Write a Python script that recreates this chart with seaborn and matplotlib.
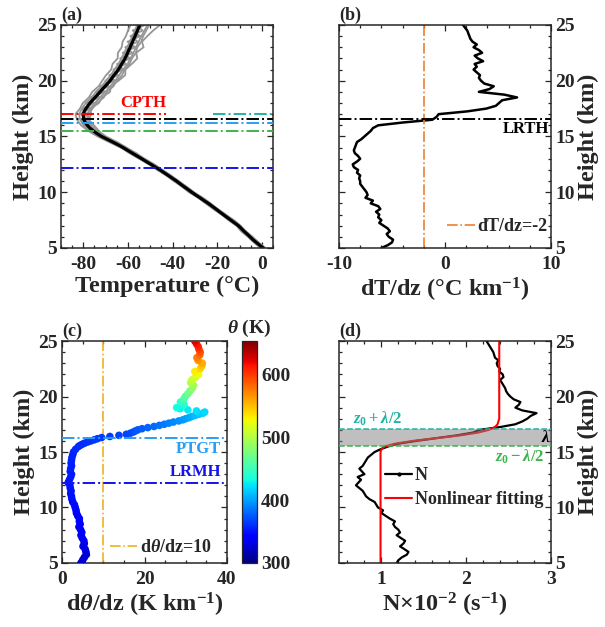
import numpy as np
import pandas as pd
import matplotlib
matplotlib.use("Agg")
import matplotlib.pyplot as plt
import seaborn as sns
from matplotlib.ticker import MultipleLocator
from matplotlib.colors import Normalize
from matplotlib.cm import ScalarMappable
from matplotlib.lines import Line2D

sns.set_theme(style="ticks")
plt.rcParams['font.family'] = ['Liberation Serif', 'DejaVu Serif']
plt.rcParams['font.weight'] = 'bold'
plt.rcParams['axes.labelweight'] = 'bold'
plt.rcParams['axes.unicode_minus'] = False
plt.rcParams['mathtext.fontset'] = 'custom'
plt.rcParams['mathtext.rm'] = 'Liberation Serif:bold'
plt.rcParams['mathtext.it'] = 'Liberation Serif:italic:bold'
plt.rcParams['mathtext.bf'] = 'Liberation Serif:bold'

# ==========================================
# Data
# ==========================================
z = np.arange(5, 25.01, 0.25)        # 81 levels, km
z_gray = np.arange(5, 25.01, 0.5)    # 41 levels, km

# (a) mean temperature profile (deg C)
T_mean = [0.6, -1.0, -2.5, -4.0, -5.3, -6.6, -8.0, -9.2, -10.5, -12.2, -13.9, -15.6, -17.3,
          -19.0, -20.6, -22.3, -24.0, -25.9, -27.7, -29.6, -31.4, -33.1, -34.9, -36.6, -38.2,
          -40.1, -41.9, -43.8, -45.6, -47.7, -49.7, -51.8, -53.8, -55.9, -58.0, -60.1, -62.1,
          -64.4, -66.8, -69.3, -71.8, -73.8, -75.5, -77.0, -78.2, -79.1, -79.7, -79.9, -80.0,
          -79.6, -78.8, -77.9, -77.0, -75.9, -74.7, -73.6, -72.5, -71.4, -70.2, -69.1, -68.0,
          -67.1, -66.2, -65.2, -64.3, -63.5, -62.8, -62.0, -61.3, -60.7, -60.1, -59.6, -59.0,
          -58.5, -57.9, -57.4, -56.8, -56.3, -55.7, -55.2, -54.6]

# (a) individual soundings (gray)
T_snd1 = [1.6, -1.7, -4.1, -7.4, -9.5, -12.5, -16.4, -20.1, -22.9, -26.4, -30.6, -33.9, -37.6, -40.7,
          -44.7, -48.2, -52.8, -56.2, -60.9, -64.8, -70.3, -73.0, -75.2, -77.5, -76.5, -76.8, -73.0,
          -71.7, -68.0, -67.7, -64.2, -61.2, -61.1, -58.3, -55.8, -56.3, -53.0, -53.7, -51.3, -48.7, -45.6]
T_snd2 = [-0.5, -3.6, -6.2, -9.3, -11.4, -15.0, -18.1, -21.8, -25.2, -28.5, -32.7, -35.8, -39.5, -42.8,
          -46.9, -50.6, -55.0, -59.3, -63.2, -68.5, -73.6, -77.8, -81.0, -82.8, -83.5, -81.5, -80.2,
          -77.5, -76.0, -73.1, -71.5, -69.8, -67.5, -66.9, -64.6, -64.5, -62.8, -62.4, -60.9, -60.0, -58.8]
T_snd3 = [0.2, -2.0, -5.9, -7.5, -11.0, -13.2, -17.9, -20.0, -24.6, -27.0, -32.0, -34.2, -38.9, -41.2,
          -46.2, -49.0, -54.5, -57.2, -62.9, -66.0, -72.6, -74.6, -79.4, -78.5, -81.2, -77.2, -78.6,
          -72.9, -74.2, -68.6, -70.1, -64.4, -66.5, -60.9, -63.5, -58.0, -61.2, -55.6, -58.9, -53.4, -56.4]
T_snd4 = [1.2, -2.9, -4.6, -8.6, -10.0, -14.5, -16.8, -21.2, -23.4, -28.3, -30.8, -35.5, -37.5, -42.5,
          -45.0, -50.3, -53.1, -58.7, -61.4, -67.5, -70.9, -76.4, -77.0, -81.0, -78.4, -80.6, -75.2,
          -76.9, -70.4, -72.5, -65.8, -68.4, -62.0, -64.9, -59.0, -62.3, -56.7, -60.2, -54.5, -57.9, -52.3]
T_snd5 = [0.9, -2.1, -4.8, -7.6, -10.1, -13.3, -16.7, -20.0, -23.5, -27.1, -30.9, -34.3, -37.8, -41.3,
          -45.1, -49.0, -53.2, -57.3, -61.4, -65.8, -70.6, -74.3, -76.9, -78.3, -78.2, -77.0, -74.8,
          -72.6, -70.1, -68.0, -65.7, -63.9, -62.2, -60.1, -58.9, -57.5, -56.4, -55.2, -54.0, -52.6, -51.2]
T_snd6 = [0.1, -3.0, -5.8, -8.5, -11.0, -14.4, -17.9, -21.3, -24.6, -28.4, -32.1, -35.6, -38.8, -42.6,
          -46.3, -50.4, -54.6, -58.8, -63.0, -67.9, -72.9, -76.9, -79.8, -81.4, -81.9, -80.6, -78.9,
          -76.2, -74.4, -71.7, -69.9, -67.6, -66.1, -64.2, -62.9, -61.7, -60.4, -59.1, -58.0, -56.8, -55.9]
T_snd7 = [0.4, -2.6, -5.1, -7.8, -10.7, -13.7, -17.5, -20.4, -24.2, -27.5, -31.6, -34.7, -38.4, -41.7,
          -45.8, -49.5, -54.0, -57.6, -62.5, -66.3, -71.2, -75.9, -77.6, -80.3, -79.1, -79.5, -76.1,
          -75.3, -71.3, -71.6, -66.9, -67.0, -63.1, -63.6, -60.2, -60.9, -57.8, -58.6, -55.6, -56.5, -53.4]
T_snd8 = [1.4, -1.4, -4.4, -7.1, -9.8, -13.0, -16.2, -19.7, -23.2, -26.8, -30.4, -33.7, -37.2, -40.8,
          -44.5, -48.4, -52.5, -56.8, -60.6, -65.2, -69.8, -73.5, -76.4, -78.0, -77.6, -75.9, -74.0,
          -70.8, -69.4, -66.5, -65.0, -62.6, -61.5, -59.3, -58.2, -56.4, -55.8, -54.0, -53.2, -51.8, -50.5]

# (b) lapse rate dT/dz (deg C / km)
dTdz = [-6.0, -5.4, -5.0, -4.9, -5.3, -5.5, -5.2, -5.4, -5.8, -6.2, -6.0, -6.3, -6.2, -6.5, -6.1,
        -6.3, -7.0, -6.8, -7.5, -7.3, -7.4, -7.6, -7.8, -8.0, -8.0, -8.1, -8.0, -8.3, -8.2, -8.6,
        -8.7, -8.3, -8.0, -8.2, -8.5, -8.6, -8.5, -8.4, -8.3, -7.9, -7.6, -7.3, -7.0, -6.8, -6.3,
        -4.0, -1.2, -0.8, -0.6, 2.1, 3.9, 4.8, 5.1, 5.4, 6.8, 5.6, 3.2, 4.2, 4.6, 3.7, 3.4, 3.2,
        3.3, 3.0, 2.7, 3.0, 2.8, 3.6, 3.1, 2.8, 3.5, 3.2, 2.7, 3.0, 2.6, 2.4, 2.3, 2.2, 2.1, 1.9, 1.7]

# (c) potential temperature gradient and potential temperature
z_c = np.round(np.concatenate([np.arange(5, 15.3, 0.25), np.arange(15.5, 18.95, 0.1),
                               np.arange(19, 25.01, 0.25)]), 2)
dthdz = [4.6, 5.0, 5.4, 5.9, 5.8, 5.6, 5.1, 5.4, 5.3, 4.9, 4.6, 4.8, 4.5, 4.1, 4.4, 4.2, 4.2,
         3.8, 3.5, 3.4, 3.2, 3.0, 2.6, 2.4, 2.3, 2.1, 2.2, 2.0, 1.9, 1.5, 1.8, 2.1, 2.3, 2.0,
         2.1, 2.3, 2.2, 2.3, 2.4, 2.6, 2.8, 3.3,
         4.0, 4.4, 4.9, 5.5, 6.2, 7.0, 7.8, 8.6, 9.6, 11.6, 13.8, 15.6, 16.6, 17.3, 17.8, 18.4,
         19.4, 20.8, 22.3, 23.6, 24.8, 25.9, 27.0, 28.3, 29.3, 30.0, 30.8, 31.5, 32.3, 33.2,
         34.2, 34.6, 32.6, 30.5, 28.6,
         27.8, 29.6, 28.7, 29.5, 29.9, 30.5, 31.0, 31.6, 31.9, 31.2, 31.5, 32.4, 33.1, 32.2,
         33.5, 33.9, 34.0, 33.0, 32.7, 33.4, 33.5, 33.2, 33.0, 32.6, 32.2]
theta = [323.0, 324.2, 325.5, 327.0, 328.4, 329.8, 331.1, 332.4, 333.8, 335.0, 336.2, 337.4,
         338.5, 339.5, 340.6, 341.7, 342.7, 343.7, 344.6, 345.4, 346.2, 347.0, 347.6, 348.2,
         348.8, 349.3, 349.9, 350.4, 350.8, 351.2, 351.7, 352.2, 352.8, 353.3, 353.8, 354.4,
         354.9, 355.5, 356.1, 356.8, 357.5, 358.3,
         359.2, 359.6, 360.1, 360.6, 361.2, 361.9, 362.7, 363.5, 364.4, 365.5, 366.8, 368.3,
         369.9, 371.6, 373.4, 375.2, 377.1, 379.1, 381.3, 383.6, 386.0, 388.5, 391.2, 394.0,
         396.9, 399.9, 402.9, 406.0, 409.2, 412.5, 415.9, 419.4, 422.7, 425.8, 428.8,
         431.6, 438.8, 446.0, 453.3, 460.8, 468.4, 476.1, 484.0, 492.0, 499.8, 507.7, 515.8,
         524.1, 532.1, 540.5, 549.0, 557.5, 565.7, 573.9, 582.2, 590.6, 598.9, 607.1, 615.3, 623.4]

# (d) buoyancy frequency N (x 1e-2 s^-1) and sigmoid fit
N_obs = [1.18, 1.20, 1.24, 1.30, 1.32, 1.27, 1.22, 1.26, 1.28, 1.23, 1.18, 1.22, 1.20, 1.16,
         1.14, 1.16, 1.10, 1.05, 1.00, 1.02, 0.96, 0.94, 0.92, 0.86, 0.82, 0.80, 0.78, 0.74,
         0.70, 0.73, 0.76, 0.72, 0.80, 0.77, 0.74, 0.78, 0.80, 0.82, 0.84, 0.88, 0.92, 0.99,
         1.08, 1.20, 1.41, 1.65, 1.89, 2.08, 2.16, 2.40, 2.58, 2.66, 2.72, 2.76, 2.83, 2.66,
         2.58, 2.62, 2.64, 2.56, 2.52, 2.49, 2.47, 2.46, 2.44, 2.42, 2.40, 2.44, 2.43, 2.39,
         2.40, 2.37, 2.36, 2.38, 2.34, 2.33, 2.32, 2.30, 2.28, 2.26, 2.24]
z_fit = [5.0, 15.0, 15.25, 15.5, 15.75, 16.0, 16.25, 16.5, 16.75, 17.0, 17.25, 17.5, 17.75, 18.0, 25.0]
N_fit = [0.99, 0.99, 1.00, 1.04, 1.16, 1.37, 1.65, 1.93, 2.14, 2.27, 2.34, 2.37, 2.38, 2.39, 2.39]

# characteristic heights (km)
cpth = 17.02
lrth = 16.55
ptgt = 16.25
lrmh = 12.2
z0_lo = 15.52
z0_hi = 17.05
dTdz_crit = -2
dthdz_crit = 10
theta_range = (300, 653)

# colours
c_teal = '#22b2a6'
c_green = '#3cb44b'
c_ltblue = '#2a9df4'
c_blue = '#1414e6'
c_text = '#262626'
jet = matplotlib.colormaps['jet']

TICK_FS = 14
LABEL_FS = 17.5

# ==========================================
# Figure
# ==========================================
fig = plt.figure(figsize=(6.05, 6.27), dpi=100)
ax_a = fig.add_axes([0.1008, 0.6045, 0.3504, 0.3557])
ax_b = fig.add_axes([0.5603, 0.6045, 0.3504, 0.3557])
ax_c = fig.add_axes([0.1025, 0.1021, 0.2727, 0.3540])
cax = fig.add_axes([0.4000, 0.1021, 0.0248, 0.3540])
ax_d = fig.add_axes([0.5603, 0.1021, 0.3504, 0.3540])


def style_axis(ax, right=False):
    ax.set_ylim(5, 25)
    ax.yaxis.set_major_locator(MultipleLocator(5))
    ax.yaxis.set_minor_locator(MultipleLocator(1))
    ax.tick_params(which='both', direction='in', top=True, bottom=True, left=True, right=True,
                   labelsize=TICK_FS, colors=c_text, width=0.9)
    ax.tick_params(which='major', length=4.5)
    ax.tick_params(which='minor', length=2.5)
    ax.tick_params(axis='x', which='both', pad=6)
    ax.tick_params(axis='y', which='both', pad=3)
    for lab in ax.get_xticklabels() + ax.get_yticklabels():
        lab.set_fontweight('bold')
    if right:
        ax.tick_params(labelleft=False, labelright=True)
        ax.yaxis.set_label_position('right')
    for sp in ax.spines.values():
        sp.set_linewidth(1.1)
        sp.set_color(c_text)
    ax.set_ylabel('Height (km)', fontsize=LABEL_FS, fontweight='bold', color=c_text, labelpad=2)


def panel_label(ax, s):
    ax.text(0.0, 1.005, s, transform=ax.transAxes, ha='left', va='bottom',
            fontsize=13, fontweight='bold', color=c_text)


# ---- (a) temperature ----
gray_df = pd.DataFrame({
    'T': np.concatenate([T_snd1, T_snd2, T_snd3, T_snd4, T_snd5, T_snd6, T_snd7, T_snd8]),
    'z': np.tile(z_gray, 8),
    'member': np.repeat(np.arange(8), len(z_gray)),
})
sns.lineplot(data=gray_df, x='T', y='z', units='member', estimator=None, sort=False,
             orient='y', color='#969696', lw=1.3, ax=ax_a, legend=False)
sns.lineplot(x=T_mean, y=z, estimator=None, sort=False, orient='y', color='black', lw=2.3, ax=ax_a)
ax_a.hlines(cpth, -90, -43, colors='red', linestyles='-.', lw=1.4, zorder=4)
ax_a.hlines(z0_hi, -22, 5, colors=c_teal, linestyles='-.', lw=1.4, zorder=4)
ax_a.axhline(lrth, color='black', ls='-.', lw=1.4, zorder=4)
ax_a.axhline(ptgt, color=c_ltblue, ls='-.', lw=1.4, zorder=4)
ax_a.axhline(z0_lo, color=c_green, ls='-.', lw=1.4, zorder=4)
ax_a.axhline(lrmh, color=c_blue, ls='-.', lw=1.4, zorder=4)
ax_a.text(-63.5, cpth + 0.25, 'CPTH', color='red', fontsize=12, fontweight='bold', va='bottom')
ax_a.set_xlim(-90, 5)
ax_a.set_xticks([-80, -60, -40, -20, 0])
ax_a.xaxis.set_minor_locator(MultipleLocator(5))
style_axis(ax_a)
ax_a.set_xlabel('Temperature (°C)', fontsize=LABEL_FS, fontweight='bold', color=c_text, labelpad=2)
panel_label(ax_a, '(a)')

# ---- (b) lapse rate ----
sns.lineplot(x=dTdz, y=z, estimator=None, sort=False, orient='y', color='black', lw=1.8, ax=ax_b)
ax_b.axvline(dTdz_crit, color='#ee7f2d', ls='-.', lw=1.2, label='dT/dz=-2')
ax_b.axhline(lrth, color='black', ls='-.', lw=1.4, zorder=4)
ax_b.text(9.8, lrth - 0.2, 'LRTH', color='black', fontsize=12, fontweight='bold', ha='right', va='top')
ax_b.set_xlim(-10, 10)
ax_b.set_xticks([-10, 0, 10])
ax_b.xaxis.set_minor_locator(MultipleLocator(2))
style_axis(ax_b, right=True)
ax_b.set_xlabel(r'dT/dz (°C km$^{-1}$)', fontsize=LABEL_FS, fontweight='bold', color=c_text, labelpad=2)
ax_b.legend(loc='center right', bbox_to_anchor=(1.0, 0.095), frameon=False, fontsize=13,
            handlelength=1.5, handletextpad=0.15, borderaxespad=0, borderpad=0.2)
panel_label(ax_b, '(b)')

# ---- (c) potential temperature gradient ----
sns.scatterplot(x=dthdz, y=z_c, hue=theta, palette=jet, hue_norm=theta_range, s=30,
                linewidth=0, legend=False, ax=ax_c, zorder=3)
ax_c.axvline(dthdz_crit, color='#edb120', ls='-.', lw=1.2, label=r'd$\theta$/dz=10', zorder=2)
ax_c.axhline(ptgt, color=c_ltblue, ls='-.', lw=1.4, zorder=4)
ax_c.axhline(lrmh, color=c_blue, ls='-.', lw=1.4, zorder=4)
ax_c.text(38.5, ptgt - 0.25, 'PTGT', color=c_ltblue, fontsize=12, fontweight='bold', ha='right', va='top')
ax_c.text(38.5, lrmh + 0.25, 'LRMH', color=c_blue, fontsize=12, fontweight='bold', ha='right', va='bottom')
ax_c.set_xlim(0, 40)
ax_c.set_xticks([0, 20, 40])
ax_c.xaxis.set_minor_locator(MultipleLocator(5))
style_axis(ax_c)
ax_c.set_xlabel(r'd$\theta$/dz (K km$^{-1}$)', fontsize=LABEL_FS, fontweight='bold', color=c_text, labelpad=2)
ax_c.legend(loc='center right', bbox_to_anchor=(0.93, 0.07), frameon=False, fontsize=13,
            handlelength=1.5, handletextpad=0.15, borderaxespad=0, borderpad=0.2)
panel_label(ax_c, '(c)')

sm = ScalarMappable(norm=Normalize(*theta_range), cmap=jet)
cbar = fig.colorbar(sm, cax=cax)
cbar.set_ticks([300, 400, 500, 600])
cbar.ax.tick_params(labelsize=TICK_FS, colors=c_text, direction='in', length=3, pad=3)
for lab in cbar.ax.get_yticklabels():
    lab.set_fontweight('bold')
cbar.outline.set_linewidth(0.9)
cax.set_title(r'$\theta$ (K)', fontsize=14, fontweight='bold', color=c_text, pad=6)

# ---- (d) buoyancy frequency ----
sns.lineplot(x=N_obs, y=z, estimator=None, sort=False, orient='y', color='black', lw=1.6, ax=ax_d)
sns.lineplot(x=N_fit, y=z_fit, estimator=None, sort=False, orient='y', color='red', lw=1.5, ax=ax_d)
ax_d.axhspan(z0_lo, z0_hi, color='#808080', alpha=0.5, lw=0, zorder=3)
ax_d.axhline(z0_hi, color=c_teal, ls='--', lw=1.1, zorder=4)
ax_d.axhline(z0_lo, color=c_green, ls='--', lw=1.1, zorder=4)
ax_d.text(0.66, z0_hi + 0.12, r'$z_0+\lambda/2$', color=c_teal, fontsize=12, va='bottom')
ax_d.text(2.92, z0_lo - 0.1, r'$z_0-\lambda/2$', color=c_green, fontsize=12, ha='right', va='top')
ax_d.text(2.99, (z0_lo + z0_hi) / 2, r'$\lambda$', color='black', fontsize=12, ha='right', va='center')
ax_d.set_xlim(0.5, 3)
ax_d.set_xticks([1, 2, 3])
ax_d.xaxis.set_minor_locator(MultipleLocator(0.2))
style_axis(ax_d, right=True)
ax_d.set_xlabel(r'N$\times$10$^{-2}$ (s$^{-1}$)', fontsize=LABEL_FS, fontweight='bold', color=c_text, labelpad=2)
handles = [Line2D([], [], color='black', lw=1.6, marker='.', markersize=4),
           Line2D([], [], color='red', lw=1.5)]
ax_d.legend(handles, ['N', 'Nonlinear fitting'], loc='center left', bbox_to_anchor=(0.2, 0.34),
            frameon=False, fontsize=13, handlelength=1.5, handletextpad=0.15, borderaxespad=0,
            borderpad=0.2, labelspacing=0.4)
panel_label(ax_d, '(d)')

fig.savefig('out.png', dpi=100)
